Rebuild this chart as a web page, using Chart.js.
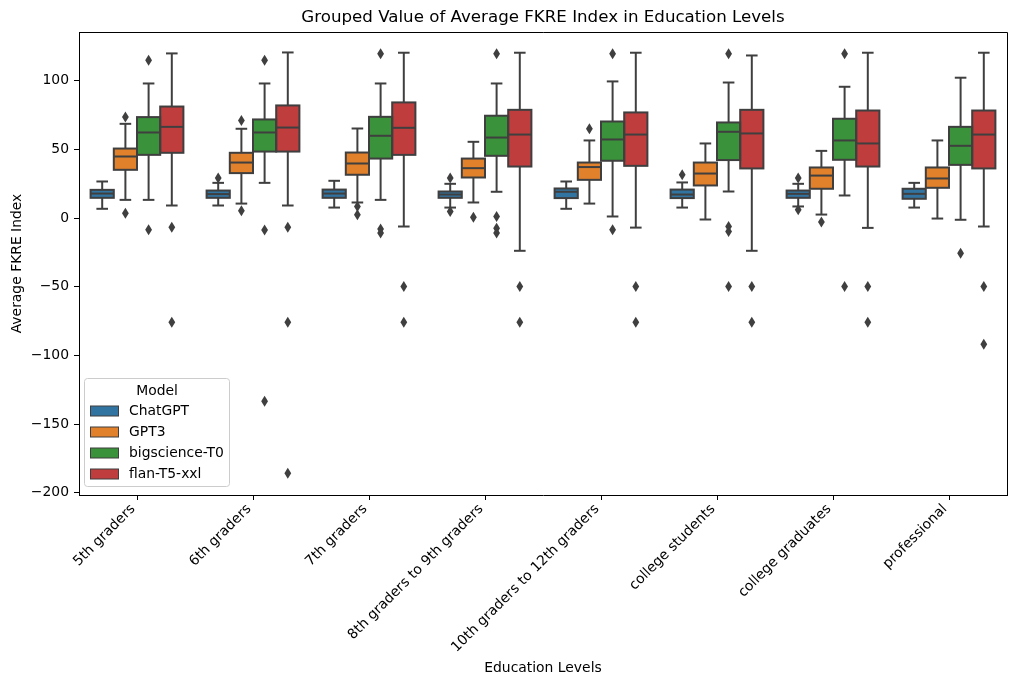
<!DOCTYPE html>
<html>
<head>
<meta charset="utf-8">
<script src="https://cdn.jsdelivr.net/npm/chart.js@4.4.1/dist/chart.umd.min.js"></script>
<style>
  html, body { margin: 0; padding: 0; background: #fff; }
  canvas { display: block; }
</style>
</head>
<body>
<canvas id="chart" width="1017" height="686"></canvas>
<script>
// education levels on the x axis
const levels = ["5th graders", "6th graders", "7th graders", "8th graders to 9th graders",
  "10th graders to 12th graders", "college students", "college graduates", "professional"];
const models = ["ChatGPT", "GPT3", "bigscience-T0", "flan-T5-xxl"];
const colors = ["#3274a1", "#e1812c", "#3a923a", "#c03d3e"];
const yTicks = [-200, -150, -100, -50, 0, 50, 100];

// per level: [lower whisker, q1, median, q3, upper whisker]
const chatgptStats = [
  [6.8, 14.8, 17.9, 20.6, 26.7], [9.2, 14.8, 17.5, 20.1, 25.7], [7.7, 14.8, 17.9, 20.8, 27.2],
  [7.7, 14.8, 17.2, 19.4, 25.0], [6.8, 14.6, 19.2, 21.6, 26.7], [7.7, 14.6, 17.2, 20.8, 26.0],
  [8.5, 14.8, 17.7, 20.1, 25.0], [7.7, 14.1, 17.7, 21.4, 25.7]
];
const chatgptOutliers = [[], [29.2], [], [29.2, 4.8], [], [31.6], [29.2, 6.1], []];

const gpt3Stats = [
  [13.3, 35.2, 44.9, 50.7, 68.7], [10.6, 32.8, 40.5, 47.6, 65.1], [11.4, 31.6, 39.8, 47.8, 65.3],
  [11.4, 29.6, 36.4, 43.4, 55.6], [10.6, 27.9, 37.2, 40.5, 56.6], [-1.0, 23.8, 32.5, 40.5, 54.4],
  [2.6, 21.4, 31.0, 36.9, 49.0], [-0.3, 22.1, 28.9, 36.9, 56.6]
];
const gpt3Outliers = [[73.6, 3.6], [71.1, 5.3], [8.5, 2.4], [0.7], [65.1], [], [-2.9], []];

const t0Stats = [
  [13.3, 46.1, 62.4, 73.6, 98.1], [25.7, 48.5, 62.4, 71.9, 98.1], [13.3, 43.4, 60.0, 73.8, 98.1],
  [19.2, 45.4, 58.7, 74.6, 98.1], [1.2, 41.8, 57.3, 70.4, 99.6], [19.4, 42.3, 62.9, 69.7, 98.8],
  [16.5, 42.5, 56.6, 72.4, 95.7], [-1.2, 38.8, 52.7, 66.5, 102.3]
];
const t0Outliers = [[115.1, -8.5], [115.1, -8.7, -133.4], [119.8, -8, -10.9], [119.8, 1.2, -7.3, -10.9],
  [119.8, -8.5], [119.8, -6.1, -9.7, -49.8], [119.8, -49.8], [-25.5]];

const flanStats = [
  [9.2, 47.6, 66.5, 81.3, 120.0], [9.2, 48.5, 66.0, 82.1, 120.7], [-6.1, 46.1, 65.8, 84.3, 120.5],
  [-23.8, 37.6, 60.9, 78.9, 120.5], [-6.9, 38.1, 60.9, 77.0, 120.5], [-23.8, 36.2, 61.7, 78.9, 118.5],
  [-7.1, 37.6, 54.4, 78.4, 120.5], [-6.1, 36.2, 60.9, 78.4, 120.5]
];
const flanOutliers = [[-6.6, -75.8], [-6.6, -75.8, -185.9], [-49.8, -75.8], [-49.8, -75.8],
  [-49.8, -75.8], [-49.8, -75.8], [-49.8, -75.8], [-49.8, -91.8]];

const allStats = [chatgptStats, gpt3Stats, t0Stats, flanStats];
const allOutliers = [chatgptOutliers, gpt3Outliers, t0Outliers, flanOutliers];

const edge = "#3f3f3f";
const font = '"DejaVu Sans", sans-serif';
Chart.defaults.font.family = font;
Chart.defaults.color = "#000";

// box outlines, whiskers, caps, medians and fliers on top of the floating bars
const boxParts = {
  id: "boxParts",
  afterDatasetsDraw(chart) {
    const ctx = chart.ctx;
    const ys = chart.scales.y;
    ctx.save();
    ctx.strokeStyle = edge;
    ctx.fillStyle = edge;
    ctx.lineWidth = 2;
    const seg = (x1, y1, x2, y2) => {
      ctx.beginPath(); ctx.moveTo(x1, y1); ctx.lineTo(x2, y2); ctx.stroke();
    };
    chart.data.datasets.forEach((ds, di) => {
      chart.getDatasetMeta(di).data.forEach((bar, i) => {
        const [lo, q1, med, q3, hi] = ds.stats[i];
        const x = bar.x, w = bar.width;
        const p1 = ys.getPixelForValue(q1), p3 = ys.getPixelForValue(q3);
        const pLo = ys.getPixelForValue(lo), pHi = ys.getPixelForValue(hi);
        seg(x, p3, x, pHi);
        seg(x, p1, x, pLo);
        seg(x - w / 4, pHi, x + w / 4, pHi);
        seg(x - w / 4, pLo, x + w / 4, pLo);
        ctx.strokeRect(x - w / 2, p3, w, p1 - p3);
        const pMed = ys.getPixelForValue(med);
        seg(x - w / 2, pMed, x + w / 2, pMed);
        ds.outliers[i].forEach(v => {
          const py = ys.getPixelForValue(v);
          ctx.beginPath();
          ctx.moveTo(x, py - 5.5); ctx.lineTo(x + 3.4, py);
          ctx.lineTo(x, py + 5.5); ctx.lineTo(x - 3.4, py);
          ctx.closePath(); ctx.fill();
        });
      });
    });
    ctx.restore();
  },
  afterDraw(chart) {
    const ctx = chart.ctx;
    const a = chart.chartArea;
    ctx.save();
    // top and right spines
    ctx.strokeStyle = "#000";
    ctx.lineWidth = 1;
    ctx.beginPath();
    ctx.moveTo(a.left, a.top + 0.5); ctx.lineTo(a.right + 0.5, a.top + 0.5); ctx.lineTo(a.right + 0.5, a.bottom);
    ctx.stroke();
    // title
    ctx.fillStyle = "#000";
    ctx.font = "16.67px " + font;
    ctx.textAlign = "center";
    ctx.textBaseline = "middle";
    ctx.fillText("Grouped Value of Average FKRE Index in Education Levels", (a.left + a.right) / 2, 18);
    // legend box
    const lx = 84.5, ly = 378.5, lw = 145, lh = 108;
    ctx.beginPath();
    ctx.roundRect(lx, ly, lw, lh, 3);
    ctx.fillStyle = "rgba(255,255,255,0.8)";
    ctx.fill();
    ctx.strokeStyle = "#cccccc";
    ctx.stroke();
    ctx.fillStyle = "#000";
    ctx.font = "13.9px " + font;
    ctx.fillText("Model", lx + lw / 2, 391);
    ctx.textAlign = "left";
    chart.data.datasets.forEach((ds, i) => {
      const ry = 411 + i * 21;
      ctx.fillStyle = ds.backgroundColor;
      ctx.fillRect(90.5, ry - 5, 28, 10);
      ctx.strokeStyle = edge;
      ctx.strokeRect(90.5, ry - 5, 28, 10);
      ctx.fillStyle = "#000";
      ctx.fillText(ds.label, 129, ry);
    });
    ctx.restore();
  }
};

new Chart(document.getElementById("chart"), {
  type: "bar",
  data: {
    labels: levels,
    datasets: models.map((m, i) => ({
      label: m,
      data: allStats[i].map(s => [s[1], s[3]]),
      stats: allStats[i],
      outliers: allOutliers[i],
      backgroundColor: colors[i],
      borderWidth: 0,
      categoryPercentage: 0.8,
      barPercentage: 1.0
    }))
  },
  options: {
    responsive: false,
    animation: false,
    devicePixelRatio: 1,
    layout: { padding: { top: 32, right: 10, left: 0, bottom: 0 } },
    plugins: { legend: { display: false }, tooltip: { enabled: false }, title: { display: false } },
    scales: {
      x: {
        type: "category",
        offset: true,
        grid: { display: true, drawOnChartArea: false, drawTicks: true, tickLength: 5, offset: false, color: "#000" },
        border: { display: true, color: "#000", width: 1 },
        ticks: { minRotation: 45, maxRotation: 45, padding: 1, labelOffset: -4, font: { size: 13.9 }, color: "#000" },
        title: { display: true, text: "Education Levels", font: { size: 13.9 }, padding: { top: 0, bottom: 9 } },
        afterFit(scale) { scale.height = 191; }
      },
      y: {
        min: -201.7,
        max: 135.6,
        grid: { display: true, drawOnChartArea: false, drawTicks: true, tickLength: 5, color: "#000" },
        border: { display: true, color: "#000", width: 1 },
        afterBuildTicks(scale) { scale.ticks = yTicks.map(v => ({ value: v })); },
        ticks: {
          padding: 5,
          font: { size: 13.9 },
          color: "#000",
          callback: v => String(v).replace("-", "\u2212")
        },
        title: { display: true, text: "Average FKRE Index", font: { size: 13.9 }, padding: { top: 9, bottom: 0 } },
        afterFit(scale) { scale.width = 79; }
      }
    }
  },
  plugins: [boxParts]
});
</script>
</body>
</html>
